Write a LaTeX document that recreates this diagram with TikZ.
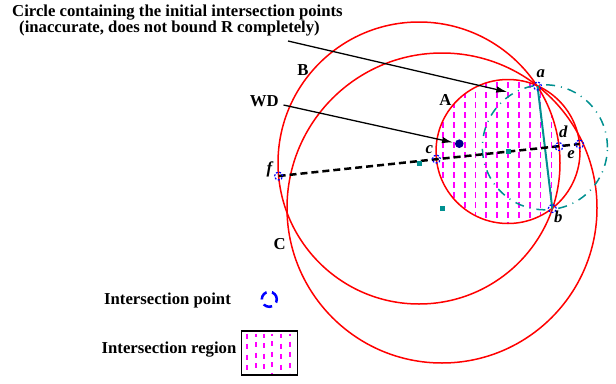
\documentclass[tikz,border=0pt]{standalone}
\usepackage{fontspec}
\setmainfont{Liberation Serif}
\usetikzlibrary{arrows.meta}
\definecolor{tealc}{RGB}{0,144,144}
\definecolor{navyc}{RGB}{0,0,140}
\definecolor{magc}{RGB}{255,0,255}
\begin{document}
\begin{tikzpicture}[x=1pt,y=-1pt,
  lbl/.style={font=\fontsize{16.7}{18}\selectfont\bfseries, inner sep=0pt, anchor=base},
  ilbl/.style={font=\fontsize{16.7}{18}\selectfont\bfseries\itshape, inner sep=0pt, anchor=base},
  redcirc/.style={draw=red, line width=1.5pt},
  ipt/.style={draw=blue, line width=1.2pt, dash pattern=on 2pt off 1.5pt, circle, minimum size=8pt, inner sep=0pt},
  hatch/.style={draw=magc, line width=1.8pt, dash pattern=on 6pt off 4pt},
  ctr/.style={fill=tealc, minimum size=5pt, inner sep=0pt},
  pointer/.style={draw=black, line width=1.3pt, -{Latex[length=11pt,width=6.5pt]}},
  cline/.style={draw=black, line width=2.5pt, dash pattern=on 7pt off 4pt}
]
\useasboundingbox (0,0) rectangle (616,383);
% key points
\coordinate (Ac) at (508,151.5);
\coordinate (Bc) at (419,163);
\coordinate (Cc) at (442,208);
\coordinate (Tc) at (544.9,147.3);
\coordinate (a) at (537.5,86);
\coordinate (b) at (552.3,208.5);
\coordinate (c) at (436.4,159);
\coordinate (d) at (559,146.5);
\coordinate (e) at (579.6,144);
\coordinate (f) at (278.6,176);
% intersection region hatch
\begin{scope}
  \clip (Ac) circle[radius=72pt];
  \clip (Bc) circle[radius=141pt];
  \foreach \k in {-7,...,5}
    \draw[hatch] ({508+10.85*\k},72) -- ({508+10.85*\k},230);
\end{scope}
% circles
\draw[redcirc] (Ac) circle[radius=72pt];
\draw[redcirc] (Bc) circle[radius=141pt];
\draw[redcirc] (Cc) circle[radius=155pt];
\draw[draw=tealc, line width=1.5pt, dash pattern=on 9pt off 6pt on 1pt off 6pt] (Tc) circle[radius=62.5pt];
\draw[draw=tealc, line width=2pt] (a) -- (b);
% center line
\draw[cline] (f) -- (e);
% intersection points
\foreach \p in {a,b,c,d,e,f} \node[ipt] at (\p) {};
% centres
\node[ctr] (sqA) at (Ac) {};
\node[ctr] (sqB) at (Bc) {};
\node[ctr] (sqC) at (Cc) {};
% WD point
\fill[navyc] (459.3,143.7) circle[radius=4.3pt];
% labels
\node[ilbl] (la) at (540.7,77.7) {a};
\node[ilbl] (lb) at (558.3,222) {b};
\node[ilbl] (lc) at (429.3,153.7) {c};
\node[ilbl] (ld) at (563.3,137) {d};
\node[ilbl] (le) at (571,158.7) {e};
\node[ilbl] (lf) at (269.3,173) {f};
\node[lbl] (lA) at (445.5,105) {A};
\node[lbl] (lB) at (303,75) {B};
\node[lbl] (lC) at (279.7,249.3) {C};
\node[lbl] (lWD) at (264.2,106) {WD};
\node[lbl, anchor=base west, align=left, font=\fontsize{16.7}{15}\selectfont\bfseries] (title) at (12,32.3)
  {Circle containing the initial intersection points\\\hspace*{7pt}(inaccurate, does not bound R completely)};
% pointers
\coordinate (p1s) at (288,41);
\coordinate (p1e) at (507.3,92);
\coordinate (p2s) at (283.5,105);
\coordinate (p2e) at (453,142.5);
\draw[pointer] (p1s) -- (p1e);
\draw[pointer] (p2s) -- (p2e);
% legend
\node[lbl] (lg1) at (167.5,304) {Intersection point};
\node[lbl] (lg2) at (169,353) {Intersection region};
\draw[blue, line width=2.5pt, dash pattern=on 9pt off 5.5pt] (269.3,299.3) circle[radius=7.5pt];
\foreach \x/\o in {247.3/0,255.7/2,264/1,272.3/3,281/0.5,290/2.5}
  \draw[draw=magc, line width=1.7pt, dash pattern=on 5pt off 5.5pt, dash phase=\o pt] (\x,333.5) -- (\x,373);
\draw[black, line width=1.8pt] (241.5,331) rectangle (297.5,375);
\end{tikzpicture}
\end{document}
